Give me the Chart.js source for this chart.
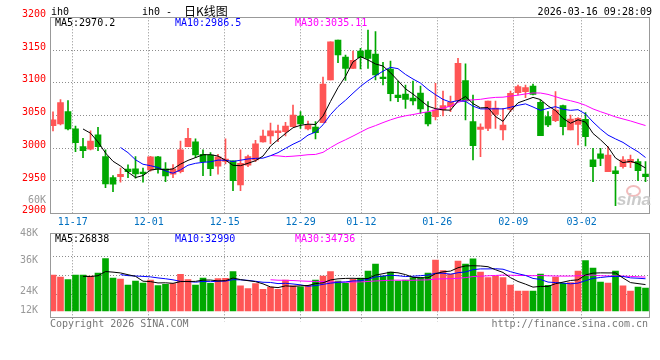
<!DOCTYPE html>
<html><head><meta charset="utf-8">
<script src="https://cdn.jsdelivr.net/npm/chart.js@4.4.1/dist/chart.umd.min.js"></script>
<style>
html,body{margin:0;padding:0;background:#fff;}
#wrap{position:relative;width:660px;height:360px;overflow:hidden;background:#fff;}
canvas{position:absolute;left:0;}
.t{position:absolute;white-space:nowrap;font-family:"DejaVu Sans Mono",monospace;font-size:10px;line-height:12px;color:#000;}
</style></head><body>
<div id="wrap">
<canvas id="main" width="660" height="228" style="top:0"></canvas>
<canvas id="vol" width="660" height="118" style="top:214px"></canvas>
<div class="t" style="left:51px;top:6px;">ih0</div>
<div class="t" style="left:142px;top:6px;">ih0 -</div>
<div class="t" style="left:184px;top:3px;font-family:'Noto Sans CJK SC';font-size:12px;line-height:16px;">日K线图</div>
<div class="t" style="right:8px;top:6px;">2026-03-16 09:28:09</div>
<div class="t" id="pm0" style="left:55px;top:17px;color:#000"></div>
<div class="t" id="pm1" style="left:175px;top:17px;color:#0000ff"></div>
<div class="t" id="pm2" style="left:295px;top:17px;color:#ff00ff"></div>
<div class="t" id="vm0" style="left:55px;top:233px;color:#000"></div>
<div class="t" id="vm1" style="left:175px;top:233px;color:#0000ff"></div>
<div class="t" id="vm2" style="left:295px;top:233px;color:#ff00ff"></div>
<div class="t" style="left:50px;top:318px;color:#777">Copyright 2026 SINA.COM</div>
<div class="t" style="right:12px;top:318px;color:#777">http://finance.sina.com.cn</div>
<div style="position:absolute;left:626px;top:185px;width:11px;height:8px;border:2px solid #f2bcbc;border-radius:50%;"></div>
<div class="t" style="left:617px;top:191px;font-family:'Liberation Sans';font-style:italic;font-weight:bold;font-size:17px;line-height:18px;color:#cbcbcb;">sina</div>
</div>
<script>
const dateTickIdx=[3,13,23,33,41,51,61,70];
const dateTickLabels=['11-17','12-01','12-15','12-29','01-12','01-26','02-09','03-02'];
const openP=[3034.5,3037.1,3055.9,3029.5,3002.4,2998.5,3020.3,2987.2,2955.1,2956.7,
2968.0,2968.4,2963.4,2966.9,2986.7,2968.4,2960.2,2964.3,3002.5,3009.6,
2990.8,2989.7,2972.5,2980.0,2980.6,2944.0,2974.0,2982.1,3009.8,3018.9,
3023.8,3025.4,3033.0,3049.3,3029.4,3032.5,3039.1,3104.2,3165.2,3139.3,
3122.0,3148.5,3150.0,3143.9,3108.8,3121.0,3081.3,3082.8,3076.7,3084.4,
3054.9,3048.2,3058.4,3063.5,3072.1,3103.2,3040.6,3028.9,3030.4,3051.8,
3027.9,3059.4,3084.9,3086.4,3095.1,3070.1,3048.2,3042.1,3065.0,3027.9,
3036.5,3044.2,2982.1,2991.3,2964.3,2965.3,2971.9,2978.0,2979.6,2960.7];
const highP=[3055.5,3074.2,3072.6,3034.0,3015.0,3026.4,3032.0,2997.4,2958.2,2969.5,
2974.5,2987.2,2969.5,2987.5,2987.5,2978.0,2975.0,3011.1,3030.4,3014.2,
2997.4,2993.3,2990.8,3014.2,2980.6,2997.4,2989.7,3012.0,3027.9,3038.5,
3035.5,3039.6,3066.1,3055.9,3041.6,3040.6,3108.8,3162.7,3165.2,3142.4,
3148.5,3152.5,3180.5,3178.0,3131.2,3133.2,3102.7,3096.6,3102.7,3095.1,
3071.1,3099.1,3087.4,3079.8,3137.3,3129.1,3081.3,3037.1,3072.1,3072.1,
3061.0,3087.4,3096.6,3096.6,3098.1,3073.7,3055.9,3086.4,3066.0,3050.8,
3046.7,3054.4,2999.9,2999.9,3002.4,2971.9,2987.2,2989.7,2983.6,2979.6];
const lowP=[3026.5,3035.5,3028.0,2994.8,2985.7,2997.4,2996.3,2939.9,2933.8,2948.1,
2955.1,2954.2,2948.1,2965.0,2961.9,2949.1,2955.0,2962.3,3002.5,2985.7,
2958.2,2958.2,2960.2,2976.0,2935.0,2935.0,2971.9,2979.6,3009.1,3007.0,
3010.1,3018.7,3033.0,3030.4,3027.9,3014.2,3039.1,3104.2,3130.6,3103.7,
3122.0,3121.0,3122.0,3104.2,3096.6,3072.1,3071.1,3061.0,3066.0,3053.3,
3034.0,3043.2,3049.3,3055.9,3072.1,3043.2,2982.1,2987.2,3026.9,3030.4,
3012.6,3055.9,3081.3,3077.2,3081.3,3019.2,3033.0,3040.6,3020.3,3027.9,
3005.0,3003.5,2949.1,2973.5,2964.3,2912.4,2969.4,2970.4,2950.6,2949.1];
const closeP=[3043.2,3069.6,3029.5,3008.5,2996.3,3011.1,3002.4,2945.5,2945.1,2960.3,
2964.3,2960.8,2961.0,2986.7,2968.4,2957.7,2968.4,2997.4,3015.2,2989.7,
2979.6,2968.9,2987.0,2983.5,2950.4,2977.0,2987.2,3006.8,3018.7,3026.6,
3026.4,3034.0,3050.8,3037.1,3035.5,3023.8,3098.1,3162.7,3142.4,3122.0,
3134.2,3138.3,3137.3,3111.8,3106.2,3083.3,3077.2,3074.7,3072.1,3059.9,
3037.1,3058.4,3065.0,3070.1,3129.6,3072.1,3004.0,3032.5,3072.1,3061.5,
3035.5,3083.8,3094.0,3092.5,3082.3,3019.2,3035.5,3058.4,3033.0,3044.7,
3045.7,3017.7,2971.9,2984.6,2989.7,2961.3,2982.1,2983.1,2965.8,2956.7];
const volume=[37100,35000,32300,37100,37100,36000,39100,53900,34000,33000,
26800,30900,28800,31900,26100,27500,28200,37800,32300,26800,
34000,28500,33300,33600,40500,25800,23000,28200,22300,24700,
22300,31900,25800,25000,26400,31900,36000,40500,30900,28500,
32600,34000,41200,48400,36000,40200,30900,31900,34300,34300,
39100,52500,41500,38100,51500,48400,53600,40200,34300,36000,
34300,26800,20600,20600,20600,38100,26400,35000,28500,29200,
41200,51800,44300,29900,28800,41200,25800,20600,24700,23700];
const priceTicks=[2900,2950,3000,3050,3100,3150,3200];
const extraPriceLabel='60K';
const extraPriceLabelAt=2915;
const volTickLabels=['48K','36K','24K','12K'];
const volTickValues=[80000,52190,20590,720];
const volGridValues=[56600,36800,16500];
const priceMaLabels=['MA5:2970.2','MA10:2986.5','MA30:3035.11'];
const volMaLabels=['MA5:26838','MA10:32990','MA30:34736'];

priceMaLabels.forEach((s,i)=>document.getElementById('pm'+i).textContent=s);
volMaLabels.forEach((s,i)=>document.getElementById('vm'+i).textContent=s);

const UP='#ff5555', DOWN='#00a800';
const isUp=i=>closeP[i]>=openP[i];
const candleColor=c=>isUp(c.dataIndex)?UP:DOWN;
function movingAvg(arr,n){return arr.map((_,i)=>i<n-1?null:arr.slice(i-n+1,i+1).reduce((a,b)=>a+b,0)/n);}
const pts=arr=>arr.map((v,i)=>({x:i,y:v}));
const idx=closeP.map((_,i)=>i);
const FONT={family:'DejaVu Sans Mono',size:10};
const GRID='#8c8c8c';
const DASH=[1,2];

const framePlugin={id:'frame',afterDatasetsDraw(c){
  const a=c.chartArea,ctx=c.ctx;ctx.save();ctx.strokeStyle='#999';ctx.lineWidth=1;
  const l=Math.round(a.left)+0.5,t=Math.round(a.top)+0.5,r=Math.round(a.right)-0.5,b=Math.round(a.bottom)-0.5;
  ctx.strokeRect(l,t,r-l,b-t);ctx.restore();}};

function lineDs(data,color){return {type:'line',data:pts(data),borderColor:color,borderWidth:1,pointRadius:0,tension:0,order:0,xAxisID:'x',yAxisID:'y',spanGaps:false};}
const common={responsive:false,animation:false,devicePixelRatio:1,events:[],
  plugins:{legend:{display:false},tooltip:{enabled:false}}};
const xData={type:'linear',min:-0.4,max:79.6,display:false,offset:false,grid:{offset:false}};

new Chart(document.getElementById('main'),{
  type:'bar',
  data:{datasets:[
    lineDs(movingAvg(closeP,5),'#000000'),
    lineDs(movingAvg(closeP,10),'#0000ff'),
    lineDs(movingAvg(closeP,30),'#ff00ff'),
    {type:'bar',data:idx.map(i=>({x:i,y:[openP[i],closeP[i]]})),backgroundColor:candleColor,barThickness:6,grouped:false,minBarLength:1,order:1,xAxisID:'x',yAxisID:'y'},
    {type:'bar',data:idx.map(i=>({x:i,y:[lowP[i],highP[i]]})),backgroundColor:candleColor,barThickness:1,grouped:false,order:2,xAxisID:'x',yAxisID:'y'}
  ]},
  options:Object.assign({},common,{
    layout:{padding:{top:17.3,right:10,left:0,bottom:0}},
    scales:{
      x:xData,
      xg:{type:'linear',position:'bottom',min:0,max:79,offset:false,
        afterBuildTicks:a=>{a.ticks=dateTickIdx.map(v=>({value:v}));},
        afterFit:a=>{a.height=14.3;},
        grid:{color:GRID,lineWidth:1,drawTicks:false,offset:false},
        border:{display:false,dash:DASH},
        ticks:{autoSkip:false,maxRotation:0,minRotation:0,padding:3,color:'#0070c0',font:FONT,
          callback:(v,i)=>dateTickLabels[i]}},
      y:{type:'linear',position:'left',min:2900,max:3200,
        afterBuildTicks:a=>{a.ticks=priceTicks.map(v=>({value:v})).concat([{value:extraPriceLabelAt}]);},
        afterFit:a=>{a.width=50;},
        grid:{color:c=>(c.tick&&c.tick.value===extraPriceLabelAt)?'rgba(0,0,0,0)':GRID,drawTicks:false},
        border:{display:false,dash:DASH},
        ticks:{padding:4,labelOffset:-3,font:FONT,
          color:c=>(c.tick&&c.tick.value===extraPriceLabelAt)?'#999999':'#ff0000',
          callback:v=>v===extraPriceLabelAt?extraPriceLabel:String(v)}}
    }}),
  plugins:[framePlugin]
});

new Chart(document.getElementById('vol'),{
  type:'bar',
  data:{datasets:[
    lineDs(movingAvg(volume,5),'#000000'),
    lineDs(movingAvg(volume,10),'#0000ff'),
    lineDs(movingAvg(volume,30),'#ff00ff'),
    {type:'bar',data:idx.map(i=>({x:i,y:volume[i]})),backgroundColor:candleColor,barThickness:6,grouped:false,order:1,xAxisID:'x',yAxisID:'y'}
  ]},
  options:Object.assign({},common,{
    layout:{padding:{top:19.3,right:10,left:0,bottom:0}},
    scales:{
      x:xData,
      xg:{type:'linear',position:'bottom',min:0,max:79,offset:false,
        afterBuildTicks:a=>{a.ticks=dateTickIdx.map(v=>({value:v}));},
        afterFit:a=>{a.height=13.7;},
        grid:{color:GRID,lineWidth:1,drawTicks:true,tickLength:3,tickColor:GRID,tickBorderDash:DASH,offset:false},
        border:{display:false,dash:DASH},
        ticks:{display:false}},
      y:{type:'linear',position:'left',min:-7500,max:80000,
        afterBuildTicks:a=>{a.ticks=volTickValues.map(v=>({value:v}));},
        afterFit:a=>{a.width=50;},
        grid:{display:false},border:{display:false},
        ticks:{padding:4,font:FONT,color:'#999999',callback:(v,i)=>volTickLabels[i]}},
      yg:{type:'linear',position:'right',min:-7500,max:80000,
        afterBuildTicks:a=>{a.ticks=volGridValues.map(v=>({value:v}));},
        afterFit:a=>{a.width=0;},
        grid:{color:GRID,drawTicks:false},border:{display:false,dash:DASH},
        ticks:{display:false}}
    }}),
  plugins:[framePlugin]
});
</script>
</body></html>
